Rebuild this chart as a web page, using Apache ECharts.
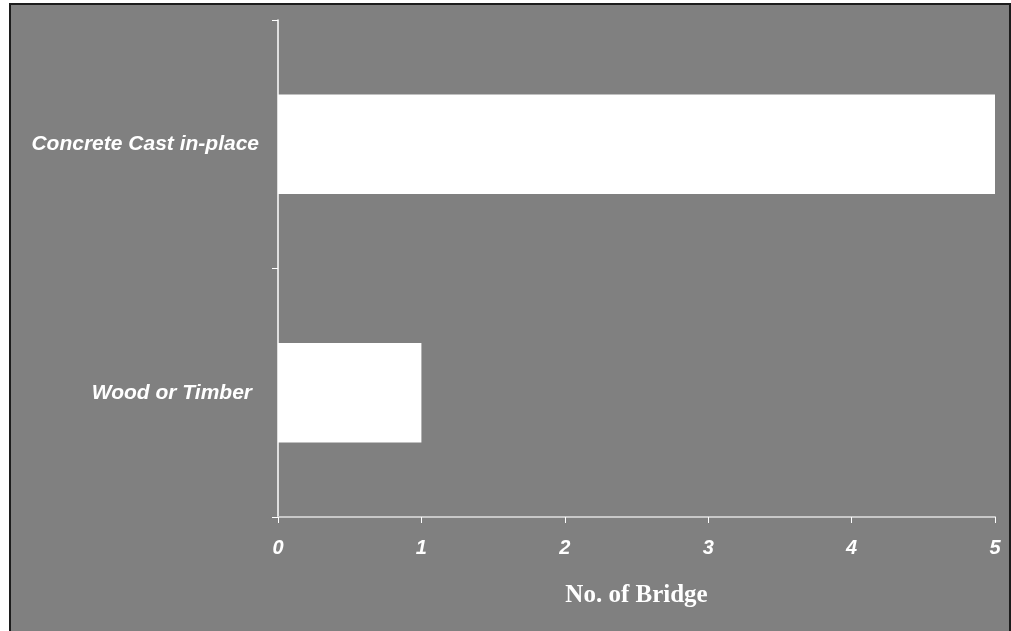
<!DOCTYPE html>
<html>
<head>
<meta charset="utf-8">
<script src="https://cdn.jsdelivr.net/npm/echarts@6/dist/echarts.min.js"></script>
<style>
  html, body { margin: 0; padding: 0; background: #ffffff; }
  #chart { width: 1011px; height: 631px; }
</style>
</head>
<body>
<div id="chart"></div>
<script>
// Bridge counts by superstructure material
const categories = ['Concrete Cast in-place', 'Wood or Timber'];
const bridgeCounts = [5, 1];
const xTicks = { min: 0, max: 5, interval: 1 };
const xAxisTitle = 'No. of Bridge';

const labelFont = {
  color: '#ffffff',
  fontFamily: 'Liberation Sans, Arial, sans-serif',
  fontStyle: 'italic',
  fontWeight: 'bold'
};

const chart = echarts.init(document.getElementById('chart'));

chart.setOption({
  backgroundColor: '#ffffff',
  animation: false,
  graphic: [{
    type: 'rect',
    z: -10,
    silent: true,
    shape: { x: 10, y: 4, width: 1000, height: 700 },
    style: { fill: '#808080', stroke: '#1c1c1c', lineWidth: 2 }
  }],
  grid: { left: 278, right: 16, top: 20, bottom: 114 },
  xAxis: {
    type: 'value',
    min: xTicks.min,
    max: xTicks.max,
    interval: xTicks.interval,
    splitLine: { show: false },
    axisLine: { show: true, lineStyle: { color: '#c8c8c8', width: 2 } },
    axisTick: { show: true, length: 6, lineStyle: { color: '#ffffff', width: 1 } },
    axisLabel: Object.assign({}, labelFont, { fontSize: 20, margin: 21 }),
    name: xAxisTitle,
    nameLocation: 'middle',
    nameGap: 66,
    nameTextStyle: {
      color: '#ffffff',
      fontFamily: 'Liberation Serif, Times New Roman, serif',
      fontSize: 25,
      fontWeight: 'bold'
    }
  },
  yAxis: {
    type: 'category',
    data: categories,
    inverse: true,
    axisLine: { show: true, lineStyle: { color: '#ffffff', width: 1.5 } },
    axisTick: { show: true, length: 6, lineStyle: { color: '#ffffff', width: 1 } },
    axisLabel: Object.assign({}, labelFont, {
      fontSize: 21,
      margin: 19,
      // the shorter label sits slightly further from the axis
      formatter: (v, i) => i === 0 ? '{a|' + v + '}' : '{b|' + v + '}',
      rich: {
        a: Object.assign({}, labelFont, { fontSize: 21 }),
        b: Object.assign({}, labelFont, { fontSize: 21, padding: [0, 7, 0, 0] })
      }
    })
  },
  series: [{
    type: 'bar',
    data: bridgeCounts,
    barCategoryGap: '60%',
    itemStyle: { color: '#ffffff' }
  }]
});
</script>
</body>
</html>
